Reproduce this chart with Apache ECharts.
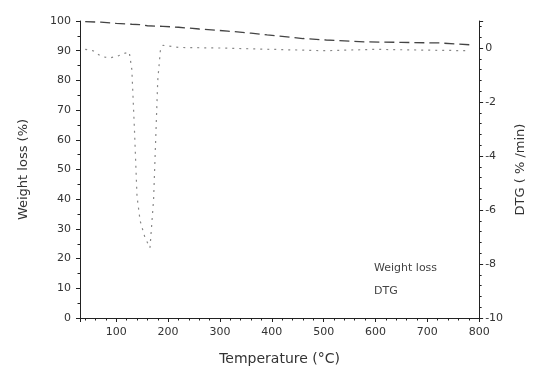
<!DOCTYPE html>
<html>
<head>
<meta charset="utf-8">
<script src="https://cdn.jsdelivr.net/npm/echarts@6/dist/echarts.min.js"></script>
<style>
html,body{margin:0;padding:0;background:#fff;}
#c{width:535px;height:375px;}
</style>
</head>
<body>
<div id="c"></div>
<script>
// Weight loss (%) vs temperature (°C)
var weightTemp = [40, 70, 100, 130, 145, 160, 190, 220, 260, 315, 360, 391, 420, 460, 505, 540, 578, 650, 724, 781];
var weightVals = [99.8, 99.6, 99.2, 98.9, 98.8, 98.4, 98.2, 97.9, 97.3, 96.6, 95.9, 95.3, 94.8, 94.1, 93.6, 93.3, 93.0, 92.8, 92.6, 92.0];
// DTG (%/min) vs temperature (°C)
var dtgTemp = [40, 55, 70, 85, 100, 115, 125, 130, 135, 140, 146, 155, 165, 172, 176, 180, 185, 190, 220, 300, 400, 500, 600, 700, 780];
var dtgVals = [-0.05, -0.1, -0.3, -0.37, -0.32, -0.2, -0.15, -0.8, -3.0, -5.5, -6.4, -7.0, -7.4, -5.6, -3.4, -1.2, -0.1, 0.1, 0.02, 0.0, -0.05, -0.1, -0.05, -0.08, -0.1];
var legendNames = ['Weight loss', 'DTG'];

function pairs(xs, ys){ return xs.map(function(x,i){ return [x, ys[i]]; }); }

var txt = '#333';
var axisCol = '#222';
var font = 'DejaVu Sans, Verdana, sans-serif';

var chart = echarts.init(document.getElementById('c'), null, {renderer:'canvas'});
chart.setOption({
  animation:false,
  backgroundColor:'#fff',
  grid:{left:80, right:50, top:21, bottom:57},
  legend:{
    orient:'vertical', left:363, top:258, itemWidth:0, itemHeight:0, itemGap:12,
    data:legendNames,
    textStyle:{color:'#444', fontSize:11, fontFamily:font}
  },
  xAxis:{
    type:'value', min:30, max:800, splitNumber:8, minInterval:100, maxInterval:100,
    name:'Temperature (°C)', nameLocation:'middle', nameGap:34,
    nameTextStyle:{color:txt, fontSize:14, fontFamily:font},
    axisLine:{lineStyle:{color:axisCol, width:1}},
    axisTick:{show:true, length:4, lineStyle:{color:axisCol}},
    minorTick:{show:true, splitNumber:5, length:2.5, lineStyle:{color:axisCol}},
    axisLabel:{color:txt, fontSize:11, fontFamily:font, margin:9,
      formatter:function(v){ return (v % 100 === 0) ? String(v) : ''; }},
    splitLine:{show:false}
  },
  yAxis:[{
    type:'value', min:0, max:100, interval:10, position:'left',
    name:'Weight loss (%)', nameLocation:'middle', nameGap:50,
    nameTextStyle:{color:txt, fontSize:13, fontFamily:font},
    axisLine:{show:true, lineStyle:{color:axisCol, width:1}},
    axisTick:{show:true, length:4, lineStyle:{color:axisCol}},
    minorTick:{show:true, splitNumber:2, length:2.5, lineStyle:{color:axisCol}},
    axisLabel:{color:txt, fontSize:11, fontFamily:font, margin:9},
    splitLine:{show:false}
  },{
    type:'value', min:-10, max:1, interval:2, position:'right',
    name:'DTG ( % /min)', nameLocation:'middle', nameGap:32,
    nameTextStyle:{color:txt, fontSize:13, fontFamily:font},
    axisLine:{show:true, lineStyle:{color:axisCol, width:1}},
    axisTick:{show:true, length:4, lineStyle:{color:axisCol}},
    minorTick:{show:true, splitNumber:5, length:2.5, lineStyle:{color:axisCol}},
    axisLabel:{color:txt, fontSize:11, fontFamily:font, margin:6,
      formatter:function(v){ return v > 0 ? '' : String(v); }},
    splitLine:{show:false}
  }],
  series:[{
    name:legendNames[0], type:'line', yAxisIndex:0, showSymbol:false, symbol:'none',
    data:pairs(weightTemp, weightVals),
    lineStyle:{color:'#444', width:1.3, type:[10,5]},
    itemStyle:{color:'#444'}
  },{
    name:legendNames[1], type:'line', yAxisIndex:1, showSymbol:false, symbol:'none',
    data:pairs(dtgTemp, dtgVals),
    lineStyle:{color:'#888', width:1.2, type:[2,5]},
    itemStyle:{color:'#888'}
  }]
});
</script>
</body>
</html>
